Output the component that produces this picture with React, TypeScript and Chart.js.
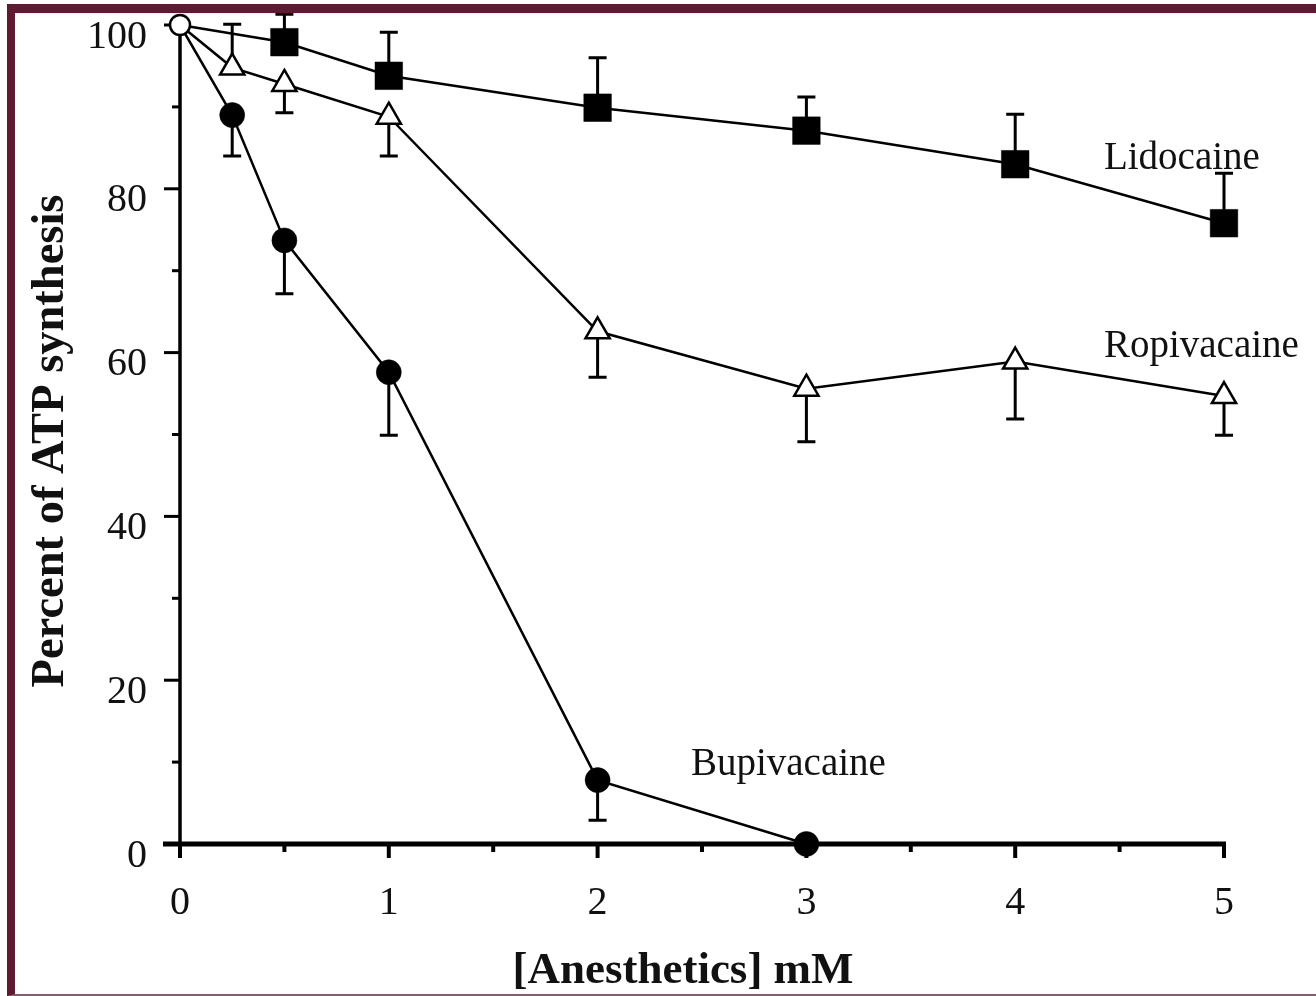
import React, { useEffect, useRef } from "react";
import { Chart, registerables } from "chart.js";

Chart.register(...registerables);

// ---- data ----
const lidoX = [0, 0.5, 1, 2, 3, 4, 5];
const lidoY = [100, 97.9, 93.8, 89.9, 87.1, 83.0, 75.8];
const lidoSD = [0, 3.4, 5.3, 6.1, 4.1, 6.1, 6.1];
const lidoDir = [0, 1, 1, 1, 1, 1, 1];

const ropiX = [0, 0.25, 0.5, 1, 2, 3, 4, 5];
const ropiY = [100, 94.8, 92.8, 88.8, 62.6, 55.6, 58.9, 54.7];
const ropiSD = [0, 5.3, 3.5, 4.8, 5.6, 6.5, 7.0, 4.8];
const ropiDir = [0, 1, -1, -1, -1, -1, -1, -1];

const bupiX = [0, 0.25, 0.5, 1, 2, 3];
const bupiY = [100, 89.0, 73.7, 57.6, 7.8, 0];
const bupiSD = [0, 5.0, 6.5, 7.7, 4.9, 0];
const bupiDir = [0, -1, -1, -1, -1, 0];

const controlX = [0];
const controlY = [100];

const xMajorTicks = [0, 1, 2, 3, 4, 5];
const xMinorTicks = [0.5, 1.5, 2.5, 3.5, 4.5];
const yMajorTicks = [0, 20, 40, 60, 80, 100];
const yMinorTicks = [10, 30, 50, 70, 90];

const seriesLabels = ["Lidocaine", "Ropivacaine", "Bupivacaine"];
const labelAnchorX = [4.425, 4.425, 2.447];
const labelAnchorY = [82.4, 59.5, 8.4];

const xTitle = "[Anesthetics] mM";
const yTitle = "Percent of ATP synthesis";

const SERIF = '"Liberation Serif", "Times New Roman", serif';

function pts(xs: number[], ys: number[]) {
  return xs.map((x, i) => ({ x, y: ys[i] }));
}

const errorSets = [
  { xs: lidoX, ys: lidoY, sd: lidoSD, dir: lidoDir },
  { xs: ropiX, ys: ropiY, sd: ropiSD, dir: ropiDir },
  { xs: bupiX, ys: bupiY, sd: bupiSD, dir: bupiDir },
];

const decorPlugin = {
  id: "decor",
  beforeDatasetsDraw(chart: any) {
    const { ctx } = chart;
    const xs = chart.scales.x;
    const ys = chart.scales.y;
    const x0 = xs.getPixelForValue(0);
    const x5 = xs.getPixelForValue(5);
    const yBot = ys.getPixelForValue(0);
    const yTop = ys.getPixelForValue(100);
    ctx.save();
    ctx.strokeStyle = "#000";
    ctx.lineCap = "butt";

    // error bars
    ctx.lineWidth = 3;
    errorSets.forEach((s) => {
      s.xs.forEach((xv, i) => {
        if (!s.dir[i] || !s.sd[i]) return;
        const px = xs.getPixelForValue(xv);
        const py = ys.getPixelForValue(s.ys[i]);
        const pe = ys.getPixelForValue(s.ys[i] + s.dir[i] * s.sd[i]);
        ctx.beginPath();
        ctx.moveTo(px, py);
        ctx.lineTo(px, pe);
        ctx.moveTo(px - 9, pe);
        ctx.lineTo(px + 9, pe);
        ctx.stroke();
      });
    });

    // y axis line
    ctx.lineWidth = 3.5;
    ctx.beginPath();
    ctx.moveTo(x0, yTop - 2);
    ctx.lineTo(x0, yBot);
    ctx.stroke();
    // y ticks
    ctx.lineWidth = 3;
    yMajorTicks.forEach((v) => {
      const p = ys.getPixelForValue(v);
      ctx.beginPath();
      ctx.moveTo(x0 - 16, p);
      ctx.lineTo(x0, p);
      ctx.stroke();
    });
    yMinorTicks.forEach((v) => {
      const p = ys.getPixelForValue(v);
      ctx.beginPath();
      ctx.moveTo(x0 - 8, p);
      ctx.lineTo(x0, p);
      ctx.stroke();
    });
    // x axis line
    ctx.lineWidth = 5;
    ctx.beginPath();
    ctx.moveTo(x0 - 17, yBot);
    ctx.lineTo(x5 + 2, yBot);
    ctx.stroke();
    ctx.lineWidth = 4;
    xMajorTicks.forEach((v) => {
      const p = xs.getPixelForValue(v);
      ctx.beginPath();
      ctx.moveTo(p, yBot);
      ctx.lineTo(p, yBot + 14);
      ctx.stroke();
    });
    xMinorTicks.forEach((v) => {
      const p = xs.getPixelForValue(v);
      ctx.beginPath();
      ctx.moveTo(p, yBot);
      ctx.lineTo(p, yBot + 8);
      ctx.stroke();
    });
    ctx.restore();
  },
  afterDraw(chart: any) {
    const { ctx } = chart;
    const xs = chart.scales.x;
    const ys = chart.scales.y;
    ctx.save();
    ctx.fillStyle = "#111";
    ctx.textBaseline = "alphabetic";
    // series labels
    ctx.font = `39px ${SERIF}`;
    ctx.textAlign = "left";
    seriesLabels.forEach((t, i) => {
      ctx.fillText(t, xs.getPixelForValue(labelAnchorX[i]), ys.getPixelForValue(labelAnchorY[i]));
    });
    // axis titles
    ctx.font = `bold 45px ${SERIF}`;
    ctx.textAlign = "center";
    ctx.fillText(xTitle, 683, 983);
    ctx.font = `bold 46.5px ${SERIF}`;
    ctx.translate(63, 441);
    ctx.rotate(-Math.PI / 2);
    ctx.fillText(yTitle, 0, 0);
    ctx.restore();
  },
};

export default function App() {
  const ref = useRef<HTMLCanvasElement>(null);
  useEffect(() => {
    if (!ref.current) return;
    const common = { showLine: true, borderColor: "#000", borderWidth: 2.5, tension: 0, clip: false as any };
    const chart = new Chart(ref.current, {
      type: "scatter",
      data: {
        datasets: [
          {
            label: "Control",
            data: pts(controlX, controlY),
            showLine: false,
            pointStyle: "circle",
            pointRadius: 10,
            pointBackgroundColor: "#fff",
            pointBorderColor: "#000",
            pointBorderWidth: 2.5,
            clip: false as any,
          },
          {
            ...common,
            label: "Lidocaine",
            data: pts(lidoX, lidoY),
            pointStyle: "rect",
            pointRadius: lidoX.map((v) => (v === 0 ? 0 : 19.5)),
            pointBackgroundColor: "#000",
            pointBorderColor: "#000",
            pointBorderWidth: 0.5,
          },
          {
            ...common,
            label: "Ropivacaine",
            data: pts(ropiX, ropiY),
            pointStyle: "triangle",
            pointRadius: ropiX.map((v) => (v === 0 ? 0 : 14)),
            pointBackgroundColor: "#fff",
            pointBorderColor: "#000",
            pointBorderWidth: 2.5,
          },
          {
            ...common,
            label: "Bupivacaine",
            data: pts(bupiX, bupiY),
            pointStyle: "circle",
            pointRadius: bupiX.map((v) => (v === 0 ? 0 : 12.5)),
            pointBackgroundColor: "#000",
            pointBorderColor: "#000",
            pointBorderWidth: 0.5,
          },
        ],
      },
      options: {
        animation: false,
        responsive: false,
        devicePixelRatio: 1,
        layout: { padding: { left: 0, top: 25, right: 92, bottom: 0 } },
        plugins: { legend: { display: false }, tooltip: { enabled: false } },
        scales: {
          x: {
            type: "linear",
            min: 0,
            max: 5,
            afterFit: (s: any) => {
              s.height = 152;
              s.paddingLeft = 0;
              s.paddingRight = 0;
            },
            grid: { display: false, drawTicks: false },
            border: { display: false },
            ticks: {
              stepSize: 1,
              padding: 35,
              color: "#111",
              font: { family: SERIF, size: 40 },
            },
          },
          y: {
            type: "linear",
            min: 0,
            max: 100,
            afterFit: (s: any) => {
              s.width = 180;
              s.paddingTop = 0;
              s.paddingBottom = 0;
            },
            grid: { display: false, drawTicks: false },
            border: { display: false },
            ticks: {
              stepSize: 20,
              padding: 33,
              color: "#111",
              // labels sit slightly below their tick marks in the reference
              callback: (v: any) => ["", String(v)],
              font: { family: SERIF, size: 40, lineHeight: 0.6 },
            },
          },
        },
      },
      plugins: [decorPlugin],
    });
    return () => chart.destroy();
  }, []);

  return (
    <div
      style={{
        position: "fixed",
        left: 0,
        top: 0,
        width: 1316,
        height: 996,
        overflow: "hidden",
        background: "#fff",
      }}
    >
      <canvas ref={ref} width={1316} height={996} style={{ position: "absolute", left: 0, top: 0 }} />
      <div
        style={{
          position: "absolute",
          left: 7,
          top: 4,
          width: 1400,
          height: 992,
          boxSizing: "border-box",
          borderLeft: "8px solid #5e1a33",
          borderTop: "9px solid #5e1a33",
          borderBottom: "2px solid #8c5a6c",
          pointerEvents: "none",
        }}
      />
    </div>
  );
}
